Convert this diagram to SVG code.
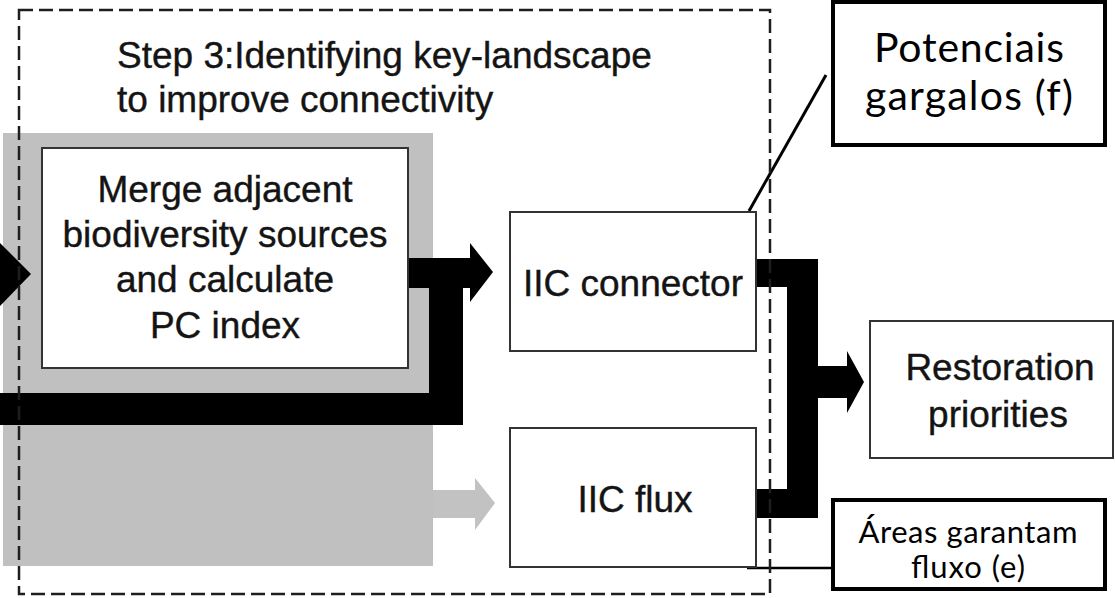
<svg xmlns="http://www.w3.org/2000/svg" width="1115" height="598" viewBox="0 0 1115 598">
  <style>
    .box { fill: #ffffff; stroke: #333333; stroke-width: 2; }
    .callout { fill: #ffffff; stroke: #000000; stroke-width: 4; }
    .lbl { font-family: "Liberation Sans", Arial, sans-serif; font-size: 37px; fill: #141414; stroke: #141414; stroke-width: 0.4; }
    .mid { text-anchor: middle; }
    .cal { font-family: Lato, "Open Sans", "Noto Sans", sans-serif; fill: #000000; text-anchor: middle; }
    .frame { fill: none; stroke: #1e1e1e; stroke-width: 2.5; stroke-dasharray: 14 6; }
    .thick { fill: #000000; }
    .grayarrow { fill: #c2c2c2; }
    .leader { stroke: #000000; fill: none; }
  </style>

  <rect x="0" y="0" width="1115" height="598" fill="#ffffff"/>

  <!-- gray background band of step -->
  <g id="gray-band">
    <rect x="3" y="133" width="430" height="433" fill="#c0c0c0"/>
  </g>

  <!-- step frame title -->
  <g id="step3-title">
    <text class="lbl" x="117" y="68">Step 3:Identifying key-landscape</text>
    <text class="lbl" x="117" y="112">to improve connectivity</text>
  </g>

  <!-- connectors -->
  <g id="connectors">
    <polygon class="thick" points="0,243 31,274 0,306"/>
    <polygon class="thick" points="0,393 429,393 429,288 408,288 408,258 470,258 470,243 493,272 470,302 470,288 463,288 463,425 0,425"/>
    <polygon class="grayarrow" points="433,490 475,490 475,478 495,503 475,530 475,518 433,518"/>
    <polygon class="thick" points="756,259 818,259 818,366 847,366 847,351 864,382 847,413 847,398 818,398 818,518 756,518 756,489 787,489 787,287 756,287"/>
    <line class="leader" x1="826" y1="75" x2="749" y2="211" stroke-width="3"/>
    <line class="leader" x1="747" y1="568" x2="833" y2="568" stroke-width="2.5"/>
  </g>

  <g id="merge">
    <rect class="box" x="42" y="148" width="366" height="220"/>
    <text class="lbl mid" x="225" y="202">Merge adjacent</text>
    <text class="lbl mid" x="225" y="247">biodiversity sources</text>
    <text class="lbl mid" x="225" y="292">and calculate</text>
    <text class="lbl mid" x="225" y="338">PC index</text>
  </g>

  <g id="iic-connector">
    <rect class="box" x="510" y="212" width="246" height="139"/>
    <text class="lbl mid" x="633" y="296">IIC connector</text>
  </g>

  <g id="iic-flux">
    <rect class="box" x="510" y="428" width="246" height="139"/>
    <text class="lbl mid" x="635" y="512">IIC flux</text>
  </g>

  <g id="restoration">
    <rect class="box" x="870" y="321" width="243" height="137"/>
    <text class="lbl mid" x="1000" y="380">Restoration</text>
    <text class="lbl mid" x="998" y="427">priorities</text>
  </g>

  <!-- dashed step frame -->
  <g id="step3-frame">
    <rect class="frame" x="19" y="10" width="751" height="584"/>
  </g>

  <g id="callout-f">
    <rect class="callout" x="833" y="2" width="272" height="143"/>
    <text class="cal" x="969" y="62" font-size="41" textLength="190">Potenciais</text>
    <text class="cal" x="969" y="110" font-size="41" textLength="208">gargalos (f)</text>
  </g>

  <g id="callout-e">
    <rect class="callout" x="833" y="500" width="272" height="89"/>
    <text class="cal" x="968" y="543" font-size="31" textLength="219">Áreas garantam</text>
    <text class="cal" x="968" y="578" font-size="31" textLength="114">fluxo (e)</text>
  </g>
</svg>
